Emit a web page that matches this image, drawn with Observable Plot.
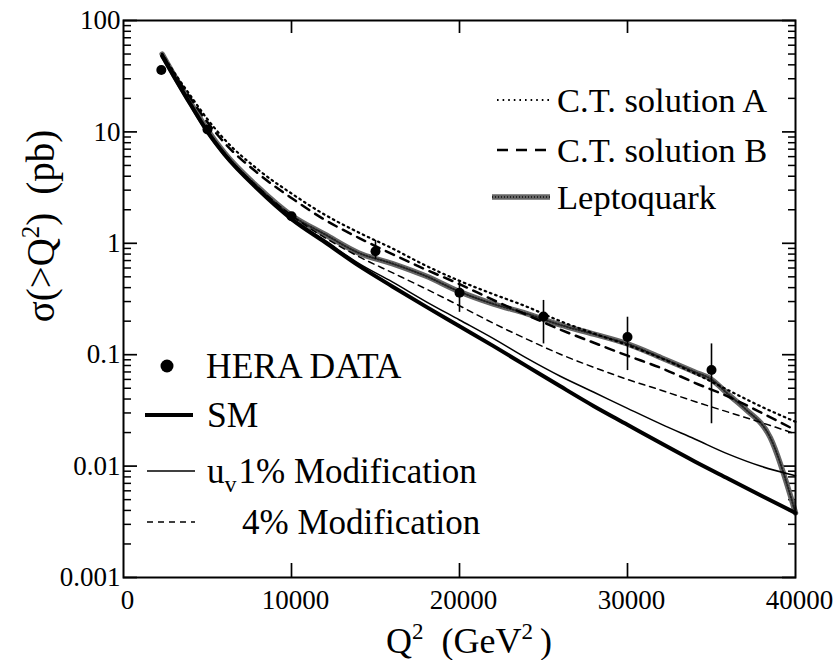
<!DOCTYPE html>
<html><head><meta charset="utf-8">
<script src="https://cdn.jsdelivr.net/npm/d3@7"></script>
<script src="https://cdn.jsdelivr.net/npm/@observablehq/plot@0.6"></script>
<style>
body{margin:0;background:#fff}
#chart{width:839px;height:660px}
#chart svg text{font-family:"Liberation Serif","Times New Roman",serif !important}
#chart svg g[aria-label="y-axis tick label"], #chart svg g[aria-label="x-axis tick label"]{font-size:27px}
</style>
</head><body><div id="chart"></div>
<script>
// ---- data ----
const q2Grid = [2300, 3000, 4000, 5000, 6000, 8000, 10000, 12000, 14000, 16000, 18000, 20000, 22000, 24000, 26000, 28000, 30000, 32000, 34000, 36000, 38000, 40000];
const smSigma   = [48, 31.5, 17.5, 10, 6.3, 3.05, 1.65, 1.02, 0.63, 0.41, 0.27, 0.18, 0.12, 0.079, 0.052, 0.0345, 0.0235, 0.016, 0.011, 0.0077, 0.0054, 0.0038];
const uv1Sigma  = [48, 31.5, 17.5, 10, 6.3, 3.08, 1.68, 1.06, 0.66, 0.45, 0.3, 0.205, 0.14, 0.093, 0.064, 0.046, 0.033, 0.0238, 0.0175, 0.0128, 0.0099, 0.0082];
const uv4Sigma  = [48, 31.7, 17.8, 10.3, 6.5, 3.2, 1.78, 1.12, 0.76, 0.545, 0.39, 0.275, 0.192, 0.138, 0.101, 0.077, 0.06, 0.048, 0.038, 0.0305, 0.0245, 0.0195];
const ctASigma  = [50, 34.5, 21, 13, 8.6, 4.6, 2.8, 1.8, 1.25, 0.9, 0.63, 0.46, 0.35, 0.27, 0.2, 0.155, 0.122, 0.093, 0.068, 0.048, 0.034, 0.025];
const ctBSigma  = [50, 33.5, 20, 12.2, 8, 4.25, 2.55, 1.62, 1.12, 0.8, 0.58, 0.43, 0.31, 0.228, 0.168, 0.128, 0.098, 0.076, 0.056, 0.042, 0.03, 0.021];
const lqQ2      = [2300, 3000, 4000, 5000, 6000, 8000, 10000, 12000, 14000, 16000, 18000, 20000, 22000, 24000, 26000, 28000, 30000, 32000, 34000, 35000, 36000, 37000, 38500, 40000];
const lqSigma   = [50, 32.5, 18.2, 10.4, 6.5, 3.2, 1.78, 1.2, 0.82, 0.658, 0.508, 0.368, 0.286, 0.234, 0.185, 0.153, 0.125, 0.094, 0.070, 0.060, 0.044, 0.0327, 0.018, 0.0038];
const heraQ2    = [2250, 5000, 10000, 15000, 20000, 25000, 30000, 35000];
const heraSigma = [36, 10.5, 1.75, 0.85, 0.36, 0.22, 0.144, 0.073];
const heraLow   = [34, 10, 1.65, 0.72, 0.24, 0.125, 0.072, 0.024];
const heraHigh  = [38, 11, 1.85, 1.06, 0.46, 0.307, 0.217, 0.125];
const yTickValues = [100, 10, 1, 0.1, 0.01, 0.001];
const yTickLabels = ["100", "10", "1", "0.1", "0.01", "0.001"];
const xTickValues = [0, 10000, 20000, 30000, 40000];
const xTickLabels = ["0", "10000", "20000", "30000", "40000"];

// ---- build tables ----
const series = (xs, ys) => xs.map((q, i) => ({q, s: ys[i]}));
const sm = series(q2Grid, smSigma), uv1 = series(q2Grid, uv1Sigma), uv4 = series(q2Grid, uv4Sigma);
const ctA = series(q2Grid, ctASigma), ctB = series(q2Grid, ctBSigma), lq = series(lqQ2, lqSigma);
const hera = heraQ2.map((q, i) => ({q, s: heraSigma[i], lo: heraLow[i], hi: heraHigh[i]}));
const minorY = [];
for (const d of [0.001, 0.01, 0.1, 1, 10]) for (let k = 2; k <= 9; k++) minorY.push(+(d * k).toPrecision(3));
const innerX = [10000, 20000, 30000];

const font = '"Liberation Serif","Times New Roman",serif';
const curve = "monotone-x";
const plot = Plot.plot({
  width: 839, height: 660,
  marginLeft: 123, marginRight: 44, marginTop: 20, marginBottom: 83,
  style: {fontFamily: font, background: "white", color: "black"},
  x: {domain: [0, 40000]},
  y: {type: "log", domain: [0.001, 100]},
  marks: [
    Plot.axisY(yTickValues, {anchor: "left", tickSize: 0, tickPadding: 3, fontSize: 27, tickFormat: d => yTickLabels[yTickValues.indexOf(d)], label: null}),
    Plot.axisY(yTickValues, {anchor: "left", tickSize: -14, strokeWidth: 1.7, tickFormat: () => "", label: null}),
    Plot.axisY(minorY, {anchor: "left", tickSize: -8, strokeWidth: 1.5, tickFormat: () => "", label: null}),
    Plot.axisY(yTickValues, {anchor: "right", tickSize: -14, strokeWidth: 1.7, tickFormat: () => "", label: null}),
    Plot.axisY(minorY, {anchor: "right", tickSize: -8, strokeWidth: 1.5, tickFormat: () => "", label: null}),
    Plot.axisX(xTickValues, {anchor: "bottom", tickSize: 0, tickPadding: 12, dx: 4, fontSize: 27, tickFormat: d => xTickLabels[xTickValues.indexOf(d)], label: null}),
    Plot.axisX(innerX, {anchor: "bottom", tickSize: -14, strokeWidth: 1.7, tickFormat: () => "", label: null}),
    Plot.axisX(innerX, {anchor: "top", tickSize: -12, strokeWidth: 1.7, tickFormat: () => "", label: null}),
    Plot.line(lq, {x: "q", y: "s", stroke: "#666", strokeWidth: 5.5, curve}),
    Plot.line(lq, {x: "q", y: "s", stroke: "#222", strokeWidth: 2, strokeDasharray: "1 2", curve}),
    Plot.line(sm, {x: "q", y: "s", stroke: "black", strokeWidth: 4, curve}),
    Plot.line(uv1, {x: "q", y: "s", stroke: "black", strokeWidth: 1.5, curve}),
    Plot.line(uv4, {x: "q", y: "s", stroke: "black", strokeWidth: 1.5, strokeDasharray: "6 5", curve}),
    Plot.line(ctA, {x: "q", y: "s", stroke: "black", strokeWidth: 2.2, strokeDasharray: "1.6 4", curve}),
    Plot.line(ctB, {x: "q", y: "s", stroke: "black", strokeWidth: 2.5, strokeDasharray: "9 7", curve}),
    Plot.ruleX(hera, {x: "q", y1: "lo", y2: "hi", stroke: "black", strokeWidth: 1.6}),
    Plot.dot(hera, {x: "q", y: "s", r: 5, fill: "black", stroke: "none"}),
    Plot.frame({stroke: "black", strokeWidth: 2})
  ]
});
document.getElementById("chart").appendChild(plot);

// ---- legends and titles ----
const svg = d3.select(plot);
const g = svg.append("g").attr("font-family", font).attr("fill", "black").attr("text-anchor", "start");
function legendLine(x1, x2, y, opts) {
  const l = g.append("line").attr("x1", x1).attr("x2", x2).attr("y1", y).attr("y2", y).attr("stroke", opts.stroke || "black").attr("stroke-width", opts.width);
  if (opts.dash) l.attr("stroke-dasharray", opts.dash);
  return l;
}
function legendText(x, y, txt, size) {
  return g.append("text").attr("x", x).attr("y", y).attr("dy", "0.35em").attr("text-anchor", "start").attr("font-size", size).text(txt);
}
// top-right legend
legendLine(497, 550, 100, {width: 2.2, dash: "1.6 4"});
legendText(557, 100, "C.T. solution A", 34.5);
legendLine(497, 550, 150, {width: 2.5, dash: "11 8"});
legendText(557, 150, "C.T. solution B", 34.5);
legendLine(492, 550, 197, {width: 5.5, stroke: "#666"});
legendLine(492, 550, 197, {width: 2, stroke: "#222", dash: "1 2"});
legendText(557, 197, "Leptoquark", 34.5);
// bottom-left legend
g.append("circle").attr("cx", 167).attr("cy", 366).attr("r", 6.5);
legendText(206, 366, "HERA DATA", 35.5);
legendLine(145, 193, 415, {width: 4});
legendText(207, 415, "SM", 35.5);
legendLine(147, 195, 471, {width: 1.5});
const uvt = g.append("text").attr("x", 207).attr("y", 471).attr("dy", "0.35em").attr("text-anchor", "start").attr("font-size", 35);
uvt.append("tspan").text("u");
uvt.append("tspan").attr("font-size", 24).attr("dy", 9).text("v");
uvt.append("tspan").attr("dy", -9).attr("dx", 2).text("1% Modification");
legendLine(147, 195, 522, {width: 1.5, dash: "6 5"});
legendText(242, 522, "4% Modification", 35);

// y title
const yt = g.append("text").attr("transform", "translate(40,226) rotate(-90)").attr("text-anchor", "middle").attr("dy", "0.35em").attr("font-size", 39);
yt.append("tspan").text("σ(>Q");
yt.append("tspan").attr("font-size", 25).attr("dy", -15).text("2");
yt.append("tspan").attr("dy", 15).text(")");
yt.append("tspan").attr("dx", 18).text("(pb)");
// x title
const xt = g.append("text").attr("x", 469).attr("y", 640).attr("text-anchor", "middle").attr("dy", "0.35em").attr("font-size", 36);
xt.append("tspan").text("Q");
xt.append("tspan").attr("font-size", 23).attr("dy", -14).text("2");
xt.append("tspan").attr("dy", 14).attr("dx", 18).text("(GeV");
xt.append("tspan").attr("font-size", 23).attr("dy", -14).text("2");
xt.append("tspan").attr("dy", 14).attr("dx", 7).text(")");
</script>
</body></html>
